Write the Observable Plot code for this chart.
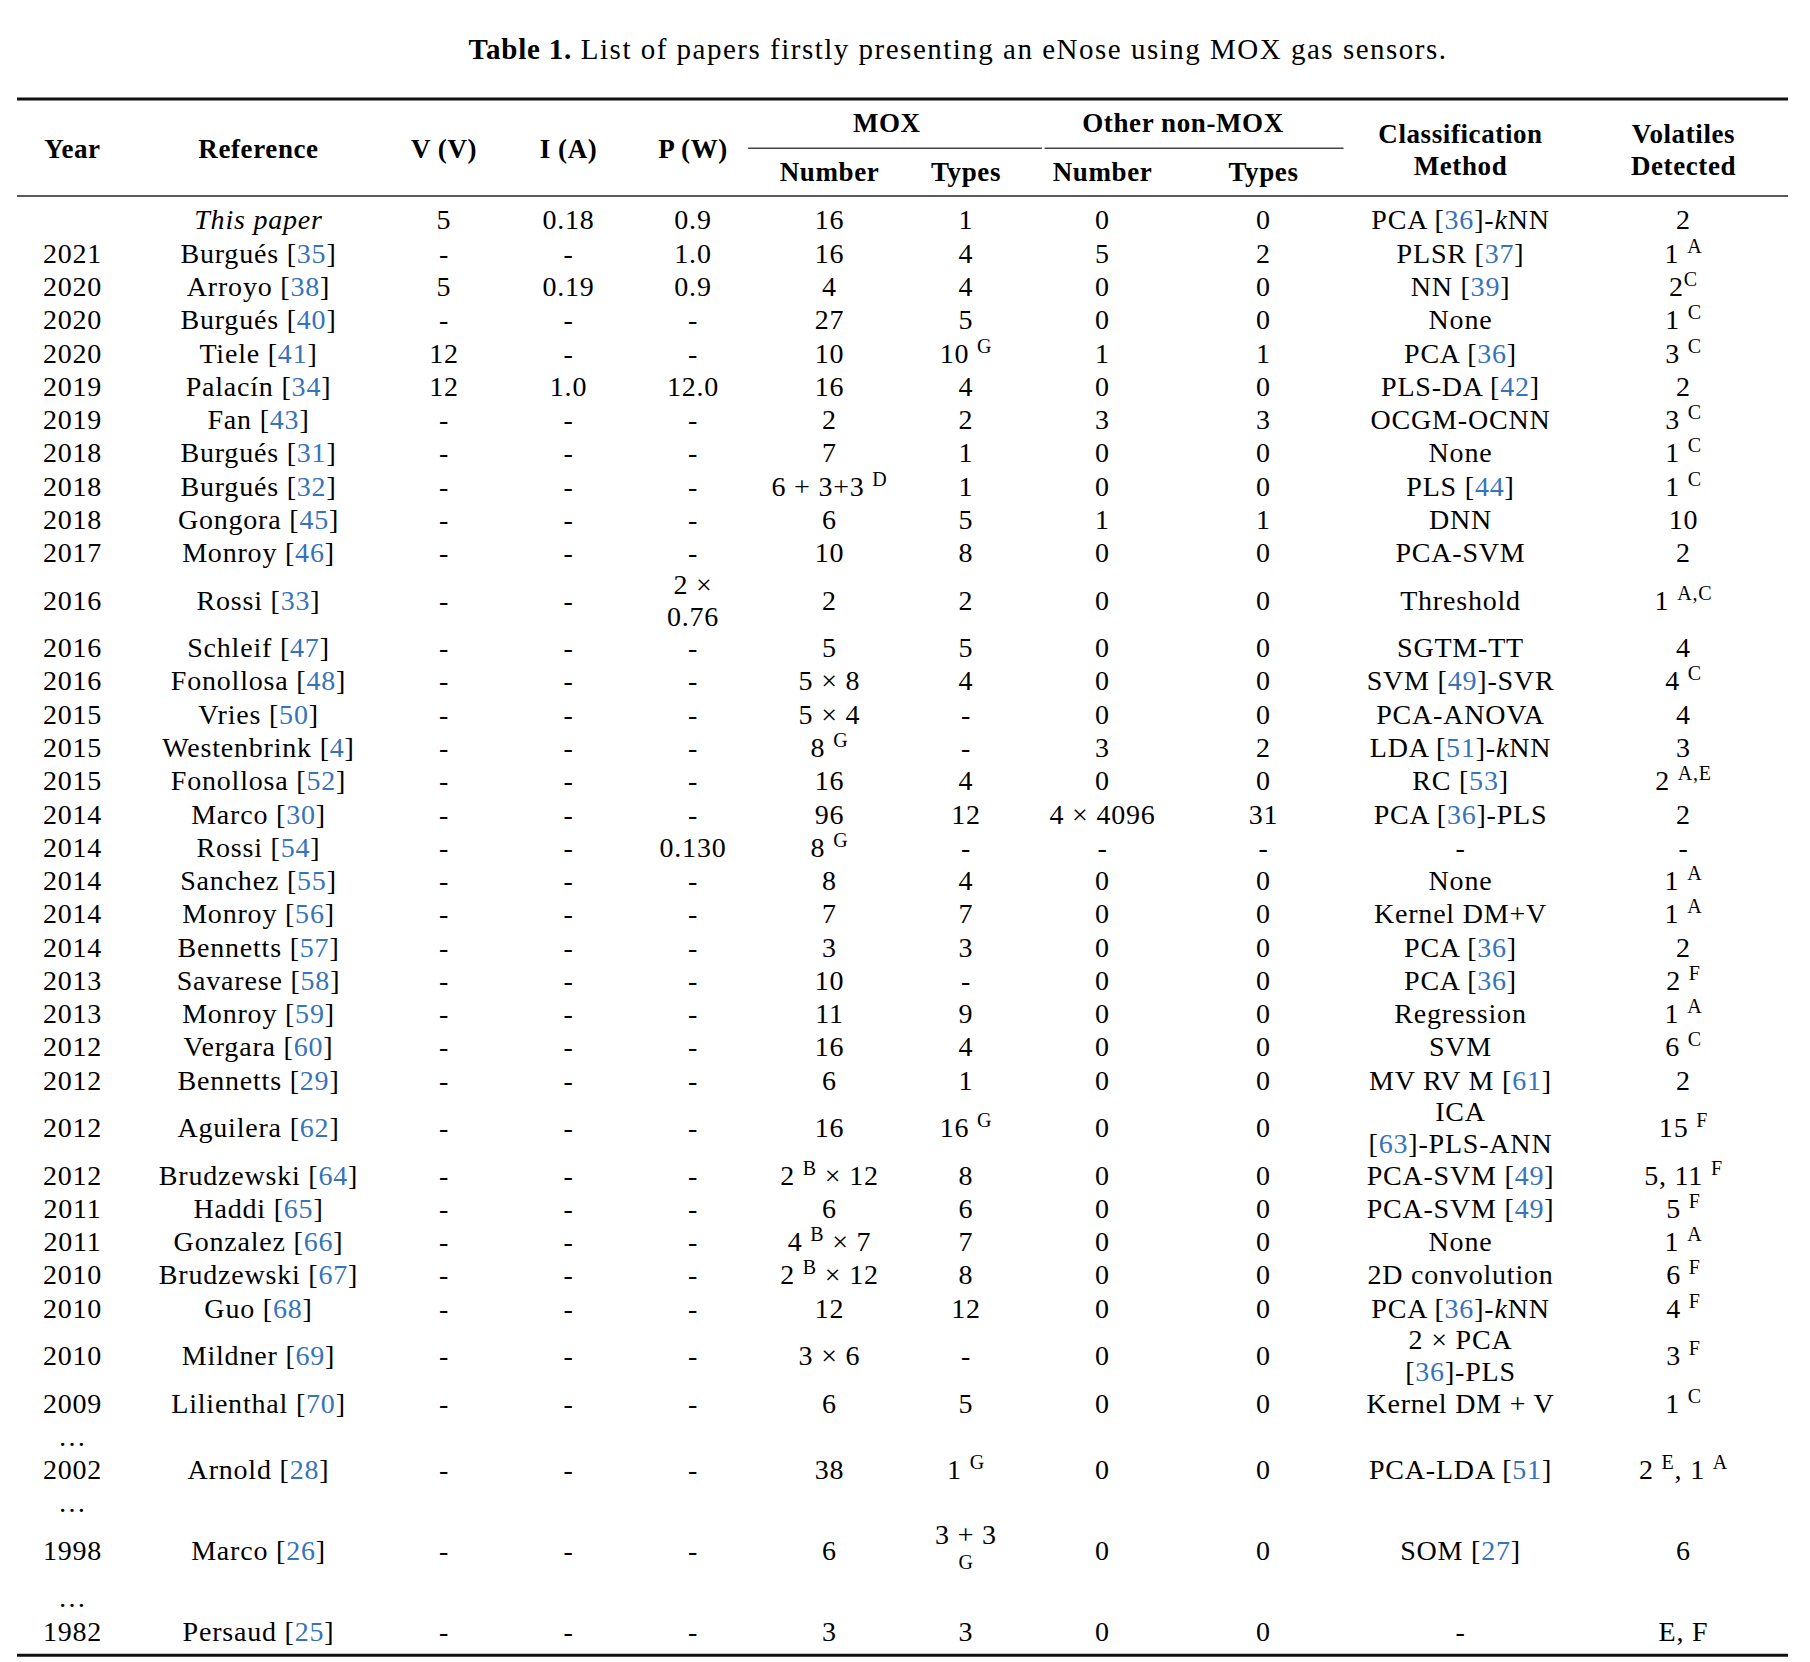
<!DOCTYPE html>
<html>
<head>
<meta charset="utf-8">
<script src="https://cdn.jsdelivr.net/npm/d3@7"></script>
<script src="https://cdn.jsdelivr.net/npm/@observablehq/plot@0.6"></script>
<style>
  html, body { margin: 0; padding: 0; background: #fff; }
  #title {
    width: 1810px; height: 80px; box-sizing: border-box;
    padding-top: 33px; padding-left: 106px;
    text-align: center; color: #000;
    font-family: "Liberation Serif", serif; font-size: 29px; line-height: 32px;
    letter-spacing: 1.5px;
  }
  #title b { letter-spacing: 0.8px; }
</style>
</head>
<body>
<div id="title"><b>Table 1.</b> List of papers firstly presenting an eNose using MOX gas sensors.</div>
<div id="chart"></div>
<script>
// ---------------- DATA ----------------
const headerLabels = ["Year", "Reference", "V (V)", "I (A)", "P (W)", "Number", "Types", "Number", "Types", "Classification\nMethod", "Volatiles\nDetected"];
const groupLabels = ["MOX", "Other non-MOX"];

const years = ["", "2021", "2020", "2020", "2020", "2019", "2019", "2018", "2018", "2018",
  "2017", "2016", "2016", "2016", "2015", "2015", "2015", "2014", "2014", "2014",
  "2014", "2014", "2013", "2013", "2012", "2012", "2012", "2012", "2011", "2011",
  "2010", "2010", "2010", "2009", "…", "2002", "…", "1998", "…", "1982"];

const references = ["*This paper*", "Burgués [35]", "Arroyo [38]", "Burgués [40]", "Tiele [41]", "Palacín [34]", "Fan [43]", "Burgués [31]", "Burgués [32]", "Gongora [45]",
  "Monroy [46]", "Rossi [33]", "Schleif [47]", "Fonollosa [48]", "Vries [50]", "Westenbrink [4]", "Fonollosa [52]", "Marco [30]", "Rossi [54]", "Sanchez [55]",
  "Monroy [56]", "Bennetts [57]", "Savarese [58]", "Monroy [59]", "Vergara [60]", "Bennetts [29]", "Aguilera [62]", "Brudzewski [64]", "Haddi [65]", "Gonzalez [66]",
  "Brudzewski [67]", "Guo [68]", "Mildner [69]", "Lilienthal [70]", "", "Arnold [28]", "", "Marco [26]", "", "Persaud [25]"];

const voltages = ["5", "-", "5", "-", "12", "12", "-", "-", "-", "-",
  "-", "-", "-", "-", "-", "-", "-", "-", "-", "-",
  "-", "-", "-", "-", "-", "-", "-", "-", "-", "-",
  "-", "-", "-", "-", "", "-", "", "-", "", "-"];

const currents = ["0.18", "-", "0.19", "-", "-", "1.0", "-", "-", "-", "-",
  "-", "-", "-", "-", "-", "-", "-", "-", "-", "-",
  "-", "-", "-", "-", "-", "-", "-", "-", "-", "-",
  "-", "-", "-", "-", "", "-", "", "-", "", "-"];

const powers = ["0.9", "1.0", "0.9", "-", "-", "12.0", "-", "-", "-", "-",
  "-", "2 ×\n0.76", "-", "-", "-", "-", "-", "-", "0.130", "-",
  "-", "-", "-", "-", "-", "-", "-", "-", "-", "-",
  "-", "-", "-", "-", "", "-", "", "-", "", "-"];

const moxNumbers = ["16", "16", "4", "27", "10", "16", "2", "7", "6 + 3+3 ^D", "6",
  "10", "2", "5", "5 × 8", "5 × 4", "8 ^G", "16", "96", "8 ^G", "8",
  "7", "3", "10", "11", "16", "6", "16", "2 ^B × 12", "6", "4 ^B × 7",
  "2 ^B × 12", "12", "3 × 6", "6", "", "38", "", "6", "", "3"];

const moxTypes = ["1", "4", "4", "5", "10 ^G", "4", "2", "1", "1", "5",
  "8", "2", "5", "4", "-", "-", "4", "12", "-", "4",
  "7", "3", "-", "9", "4", "1", "16 ^G", "8", "6", "7",
  "8", "12", "-", "5", "", "1 ^G", "", "3 + 3\n^G", "", "3"];

const otherNumbers = ["0", "5", "0", "0", "1", "0", "3", "0", "0", "1",
  "0", "0", "0", "0", "0", "3", "0", "4 × 4096", "-", "0",
  "0", "0", "0", "0", "0", "0", "0", "0", "0", "0",
  "0", "0", "0", "0", "", "0", "", "0", "", "0"];

const otherTypes = ["0", "2", "0", "0", "1", "0", "3", "0", "0", "1",
  "0", "0", "0", "0", "0", "2", "0", "31", "-", "0",
  "0", "0", "0", "0", "0", "0", "0", "0", "0", "0",
  "0", "0", "0", "0", "", "0", "", "0", "", "0"];

const methods = ["PCA [36]-*k*NN", "PLSR [37]", "NN [39]", "None", "PCA [36]", "PLS-DA [42]", "OCGM-OCNN", "None", "PLS [44]", "DNN",
  "PCA-SVM", "Threshold", "SGTM-TT", "SVM [49]-SVR", "PCA-ANOVA", "LDA [51]-*k*NN", "RC [53]", "PCA [36]-PLS", "-", "None",
  "Kernel DM+V", "PCA [36]", "PCA [36]", "Regression", "SVM", "MV RV M [61]", "ICA\n[63]-PLS-ANN", "PCA-SVM [49]", "PCA-SVM [49]", "None",
  "2D convolution", "PCA [36]-*k*NN", "2 × PCA\n[36]-PLS", "Kernel DM + V", "", "PCA-LDA [51]", "", "SOM [27]", "", "-"];

const volatiles = ["2", "1 ^A", "2^C", "1 ^C", "3 ^C", "2", "3 ^C", "1 ^C", "1 ^C", "10",
  "2", "1 ^{A,C}", "4", "4 ^C", "4", "3", "2 ^{A,E}", "2", "-", "1 ^A",
  "1 ^A", "2", "2 ^F", "1 ^A", "6 ^C", "2", "15 ^F", "5, 11 ^F", "5 ^F", "1 ^A",
  "6 ^F", "4 ^F", "3 ^F", "1 ^C", "", "2 ^E, 1 ^A", "", "6", "", "E, F"];

// ---------------- LAYOUT ----------------
const columns = [years, references, voltages, currents, powers, moxNumbers, moxTypes, otherNumbers, otherTypes, methods, volatiles];
const colCenters = [72, 258, 443.5, 568, 692.5, 829, 965.5, 1102, 1263, 1460, 1683];
const tableLeft = 17, tableRight = 1788;
const titleH = 80;
const bodyTop = 202.2 - titleH;   // px in svg
const rowUnit = 33.28;            // px per single-line row
const extraLine = 0.85;           // units added per extra line in a cell
const FS = 28;

const nRows = years.length;
const lineCount = (s) => s.split("\n").length;
const rowLines = d3.range(nRows).map(i => d3.max(columns, col => lineCount(col[i])));
const rowHeights = rowLines.map(n => 1 + (n - 1) * extraLine);
const rowStarts = d3.cumsum([0, ...rowHeights]);
const totalUnits = rowStarts[nRows];
const rowCenter = (i) => rowStarts[i] + rowHeights[i] / 2;

const cells = [];
columns.forEach((col, c) => col.forEach((text, i) => {
  if (text !== "") cells.push({col: c, y: rowCenter(i), text});
}));

const u = (px) => (px - titleH - bodyTop) / rowUnit; // header layout positions (page px) -> units
const headerCells = headerLabels.map((text, c) => ({
  col: c,
  y: c >= 5 && c <= 8 ? u(170.5) : (text.includes("\n") ? u(148.5) : u(147.5)),
  text
}));
const groupCells = groupLabels.map((text, k) => ({col: k === 0 ? 5.42 : 7.5, y: u(122.5), text}));
const thickRules = [{y: u(98.5), x1: -1, x2: 11}, {y: totalUnits + 0.25, x1: -1, x2: 11}];
const thinRules = [{y: u(195.5), x1: -1, x2: 11}];
const cmidRules = [{y: u(147.7), x1: 4.407, x2: 6.56}, {y: u(147.7), x1: 6.58, x2: 8.409}];

const chart = Plot.plot({
  width: 1810,
  height: 1662 - titleH,
  margin: 0,
  x: {type: "linear", domain: [-1, ...d3.range(11), 11], range: [tableLeft, ...colCenters, tableRight], axis: null},
  y: {type: "linear", domain: [0, totalUnits], range: [bodyTop, bodyTop + totalUnits * rowUnit], axis: null},
  style: {fontFamily: "'Liberation Serif', serif", fontSize: FS + "px", color: "#000", background: "#fff", overflow: "visible"},
  marks: [
    Plot.ruleY(thickRules, {y: "y", x1: "x1", x2: "x2", stroke: "#111", strokeWidth: 3}),
    Plot.ruleY(thinRules, {y: "y", x1: "x1", x2: "x2", stroke: "#222", strokeWidth: 1.6}),
    Plot.ruleY(cmidRules, {y: "y", x1: "x1", x2: "x2", stroke: "#444", strokeWidth: 1.4}),
    Plot.text(headerCells, {x: "col", y: "y", text: "text", fontWeight: "bold", fontSize: 27, lineHeight: 1.185, fill: "#000"}),
    Plot.text(groupCells, {x: "col", y: "y", text: "text", fontWeight: "bold", fontSize: 27, fill: "#000"}),
    Plot.text(cells, {x: "col", y: "y", text: "text", fontSize: FS, lineHeight: 1.13, fill: "#000"})
  ]
});

// ---- rich-text pass: blue citation numbers, superscripts, italics ----
const NS = "http://www.w3.org/2000/svg";
const tokenRe = /(\^\{[^}]*\}|\^[A-Z]|\*[^*]+\*|\[\d+\])/;
function richify(node) {
  const s = node.textContent;
  if (!tokenRe.test(s)) return;
  const parts = s.split(tokenRe).filter(p => p);
  const supOnly = parts.length === 1 && parts[0].startsWith("^");
  node.textContent = "";
  for (const part of parts) {
    if (part.startsWith("^")) {
      const t = document.createElementNS(NS, "tspan");
      t.textContent = part.startsWith("^{") ? part.slice(2, -1) : part.slice(1);
      t.setAttribute("style", supOnly ? "font-size:20px;baseline-shift:7px" : "font-size:20px;baseline-shift:10px");
      node.appendChild(t);
    } else if (part.startsWith("*")) {
      const t = document.createElementNS(NS, "tspan");
      t.textContent = part.slice(1, -1);
      t.setAttribute("font-style", "italic");
      node.appendChild(t);
    } else if (/^\[\d+\]$/.test(part)) {
      node.appendChild(document.createTextNode("["));
      const t = document.createElementNS(NS, "tspan");
      t.textContent = part.slice(1, -1);
      t.setAttribute("fill", "#3673b9");
      node.appendChild(t);
      node.appendChild(document.createTextNode("]"));
    } else {
      node.appendChild(document.createTextNode(part));
    }
  }
}
chart.querySelectorAll("text").forEach(el => {
  const spans = el.querySelectorAll("tspan");
  if (spans.length) spans.forEach(richify); else richify(el);
});
chart.querySelectorAll('g[aria-label="text"]').forEach(g => {
  g.setAttribute("letter-spacing", g.getAttribute("font-weight") === "bold" ? "0.6" : "0.8");
});

document.getElementById("chart").appendChild(chart);
</script>
</body>
</html>
